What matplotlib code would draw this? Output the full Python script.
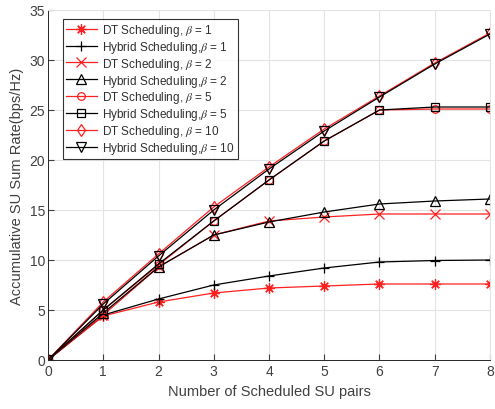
import matplotlib
matplotlib.use('Agg')
import matplotlib.pyplot as plt

plt.rcParams['font.family'] = ['Liberation Sans', 'DejaVu Sans']
plt.rcParams['mathtext.fontset'] = 'stix'

# Data
pairs = [0, 1, 2, 3, 4, 5, 6, 7, 8]
dt_b1 = [0, 4.4, 5.8, 6.7, 7.2, 7.4, 7.6, 7.6, 7.6]
hy_b1 = [0, 4.5, 6.1, 7.5, 8.4, 9.2, 9.8, 9.95, 10.0]
dt_b2 = [0, 4.5, 9.3, 12.5, 13.9, 14.3, 14.6, 14.6, 14.6]
hy_b2 = [0, 4.7, 9.3, 12.5, 13.8, 14.8, 15.6, 15.9, 16.1]
dt_b5 = [0, 5.0, 9.5, 13.9, 18.0, 21.9, 25.0, 25.1, 25.1]
hy_b5 = [0, 5.0, 9.6, 13.9, 18.0, 21.9, 25.0, 25.3, 25.3]
dt_b10 = [0, 5.8, 10.6, 15.3, 19.3, 23.1, 26.4, 29.7, 32.7]
hy_b10 = [0, 5.6, 10.4, 15.0, 19.1, 22.9, 26.3, 29.6, 32.6]

labels = [r'DT Scheduling, $\beta$ = 1', r'Hybrid Scheduling,$\beta$ = 1',
          r'DT Scheduling, $\beta$ = 2', r'Hybrid Scheduling,$\beta$ = 2',
          r'DT Scheduling, $\beta$ = 5', r'Hybrid Scheduling,$\beta$ = 5',
          r'DT Scheduling, $\beta$ = 10', r'Hybrid Scheduling,$\beta$ = 10']
series = [dt_b1, hy_b1, dt_b2, hy_b2, dt_b5, hy_b5, dt_b10, hy_b10]
# (8, 2, 0) gives a MATLAB-like asterisk
markers = [(8, 2, 0), '+', 'x', '^', 'o', 's', 'd', 'v']
sizes = [7.5, 7.5, 6.5, 6.5, 5.5, 5.5, 6, 6.5]
colors = ['#ff2020', 'black'] * 4
text_col = '#404040'
grid_col = '#e3e3e3'

fig = plt.figure(figsize=(4.95, 4.1), dpi=100)
ax = fig.add_axes([48 / 495, 49 / 410, 442 / 495, 350 / 410])

for y, m, ms, c, lab in zip(series, markers, sizes, colors, labels):
    ax.plot(pairs, y, color=c, marker=m, markersize=ms, linewidth=0.9,
            markerfacecolor='none', markeredgecolor=c, markeredgewidth=0.9,
            label=lab)

ax.set_xlim(0, 8)
ax.set_ylim(0, 35)
ax.set_xticks(range(0, 9))
ax.set_yticks(range(0, 36, 5))
ax.grid(True, color=grid_col, linewidth=0.8)
ax.set_axisbelow(True)
ax.tick_params(direction='in', labelsize=10, colors=text_col, length=4, pad=3)
ax.tick_params(axis='y', pad=2)
ax.spines['left'].set_color('#262626')
ax.spines['bottom'].set_color('#262626')
ax.spines['top'].set_color(grid_col)
ax.spines['right'].set_color(grid_col)
for s in ax.spines.values():
    s.set_linewidth(0.7)

ax.set_xlabel('Number of Scheduled SU pairs', fontsize=10.5, color=text_col)
ax.set_ylabel('Accumulative SU Sum Rate(bps/Hz)', fontsize=10.5, color=text_col)

leg = ax.legend(loc='upper left', bbox_to_anchor=(0.033, 0.975), fontsize=8.5,
                frameon=True, fancybox=False, edgecolor='black',
                borderpad=0.25, labelspacing=0.08, handlelength=2.7,
                handletextpad=0.4, borderaxespad=0)
leg.get_frame().set_linewidth(0.8)
for t in leg.get_texts():
    t.set_color('#303030')

fig.savefig('out.png', dpi=100)
